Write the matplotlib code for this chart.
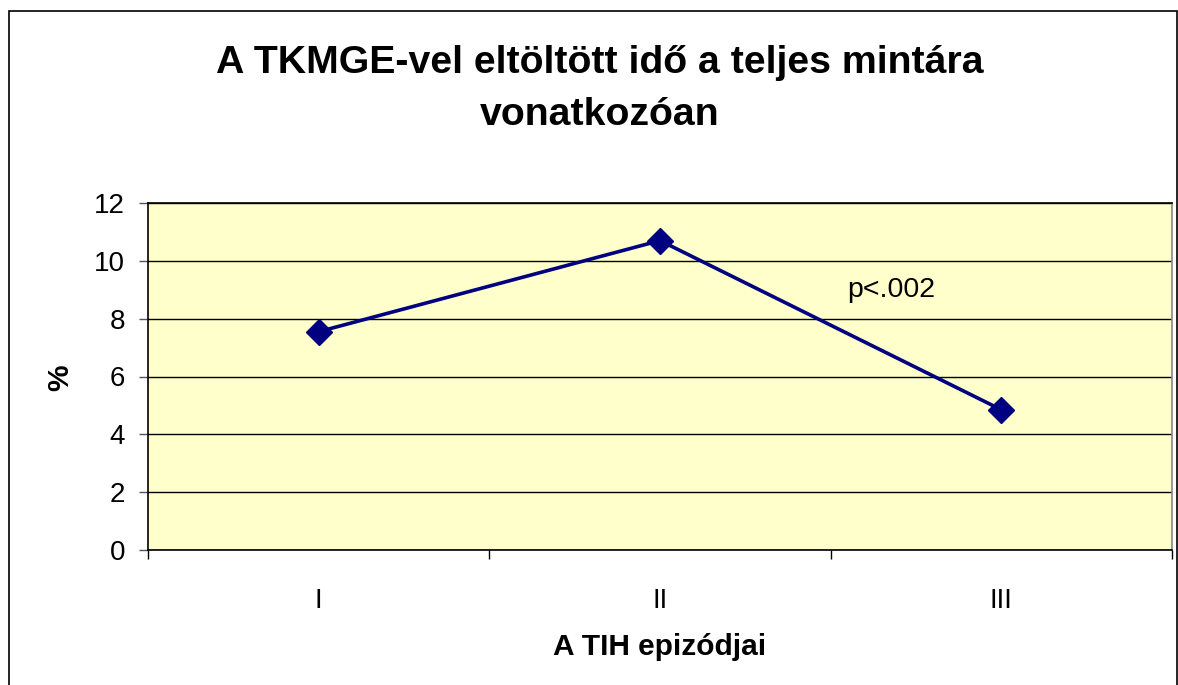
import numpy as np
import matplotlib.pyplot as plt
from matplotlib.patches import Rectangle

# Adatok
kategoriak = ['I', 'II', 'III']
ertekek = [7.55, 10.7, 4.85]
y_tickek = [0, 2, 4, 6, 8, 10, 12]

plt.rcParams['font.family'] = ['Liberation Sans', 'DejaVu Sans']

W, H = 1178, 685
fig = plt.figure(figsize=(W / 100, H / 100), dpi=100)

# külső keret
fig.add_artist(Rectangle((9 / W, -0.01), (1177 - 9) / W, (H - 11) / H + 0.01,
                         transform=fig.transFigure, fill=False,
                         edgecolor='black', linewidth=1.2))

ax = fig.add_axes([148 / W, (H - 550) / H, (1172 - 148) / W, (550 - 203) / H])
ax.set_facecolor('#FFFFCC')

x = np.arange(len(kategoriak)) + 0.5
ax.plot(x, ertekek, color='#000080', linewidth=2.6, marker='D',
        markersize=13, markerfacecolor='#000080', markeredgecolor='#000080',
        zorder=3)

ax.set_xlim(0, len(kategoriak))
ax.set_ylim(0, 12)
ax.set_yticks(y_tickek)
ax.yaxis.grid(True, color='black', linewidth=1)
ax.set_axisbelow(True)

ax.set_xticks(np.arange(len(kategoriak) + 1))
ax.set_xticklabels([])
ax.set_xticks(x, minor=True)
ax.set_xticklabels(kategoriak, minor=True)
ax.tick_params(axis='x', which='major', direction='out', length=6.5,
               width=1, color='black')
ax.tick_params(axis='x', which='minor', length=0, pad=27, labelsize=20)
ax.tick_params(axis='y', direction='out', length=6.5, width=1,
               pad=10, labelsize=20, color='#555555')

ax.spines['left'].set_color('black')
ax.spines['bottom'].set_color('black')
ax.spines['top'].set_color('black')
ax.spines['right'].set_color('#888888')
for s in ax.spines.values():
    s.set_linewidth(1.2)

ax.text(0.683, 0.75, 'p<.002', transform=ax.transAxes, fontsize=20.5,
        ha='left', va='center')

fig.text(600 / W, 1 - 89 / H, 'A TKMGE-vel eltöltött idő a teljes mintára\nvonatkozóan',
         ha='center', va='center', fontsize=28.3, fontweight='bold',
         linespacing=1.55)
fig.text(660 / W, 1 - 647 / H, 'A TIH epizódjai', ha='center', va='center',
         fontsize=21.5, fontweight='bold')
fig.text(60 / W, 1 - 378 / H, '%', ha='center', va='center', rotation=90,
         fontsize=21.5, fontweight='bold')

fig.savefig('out.png', dpi=100)
